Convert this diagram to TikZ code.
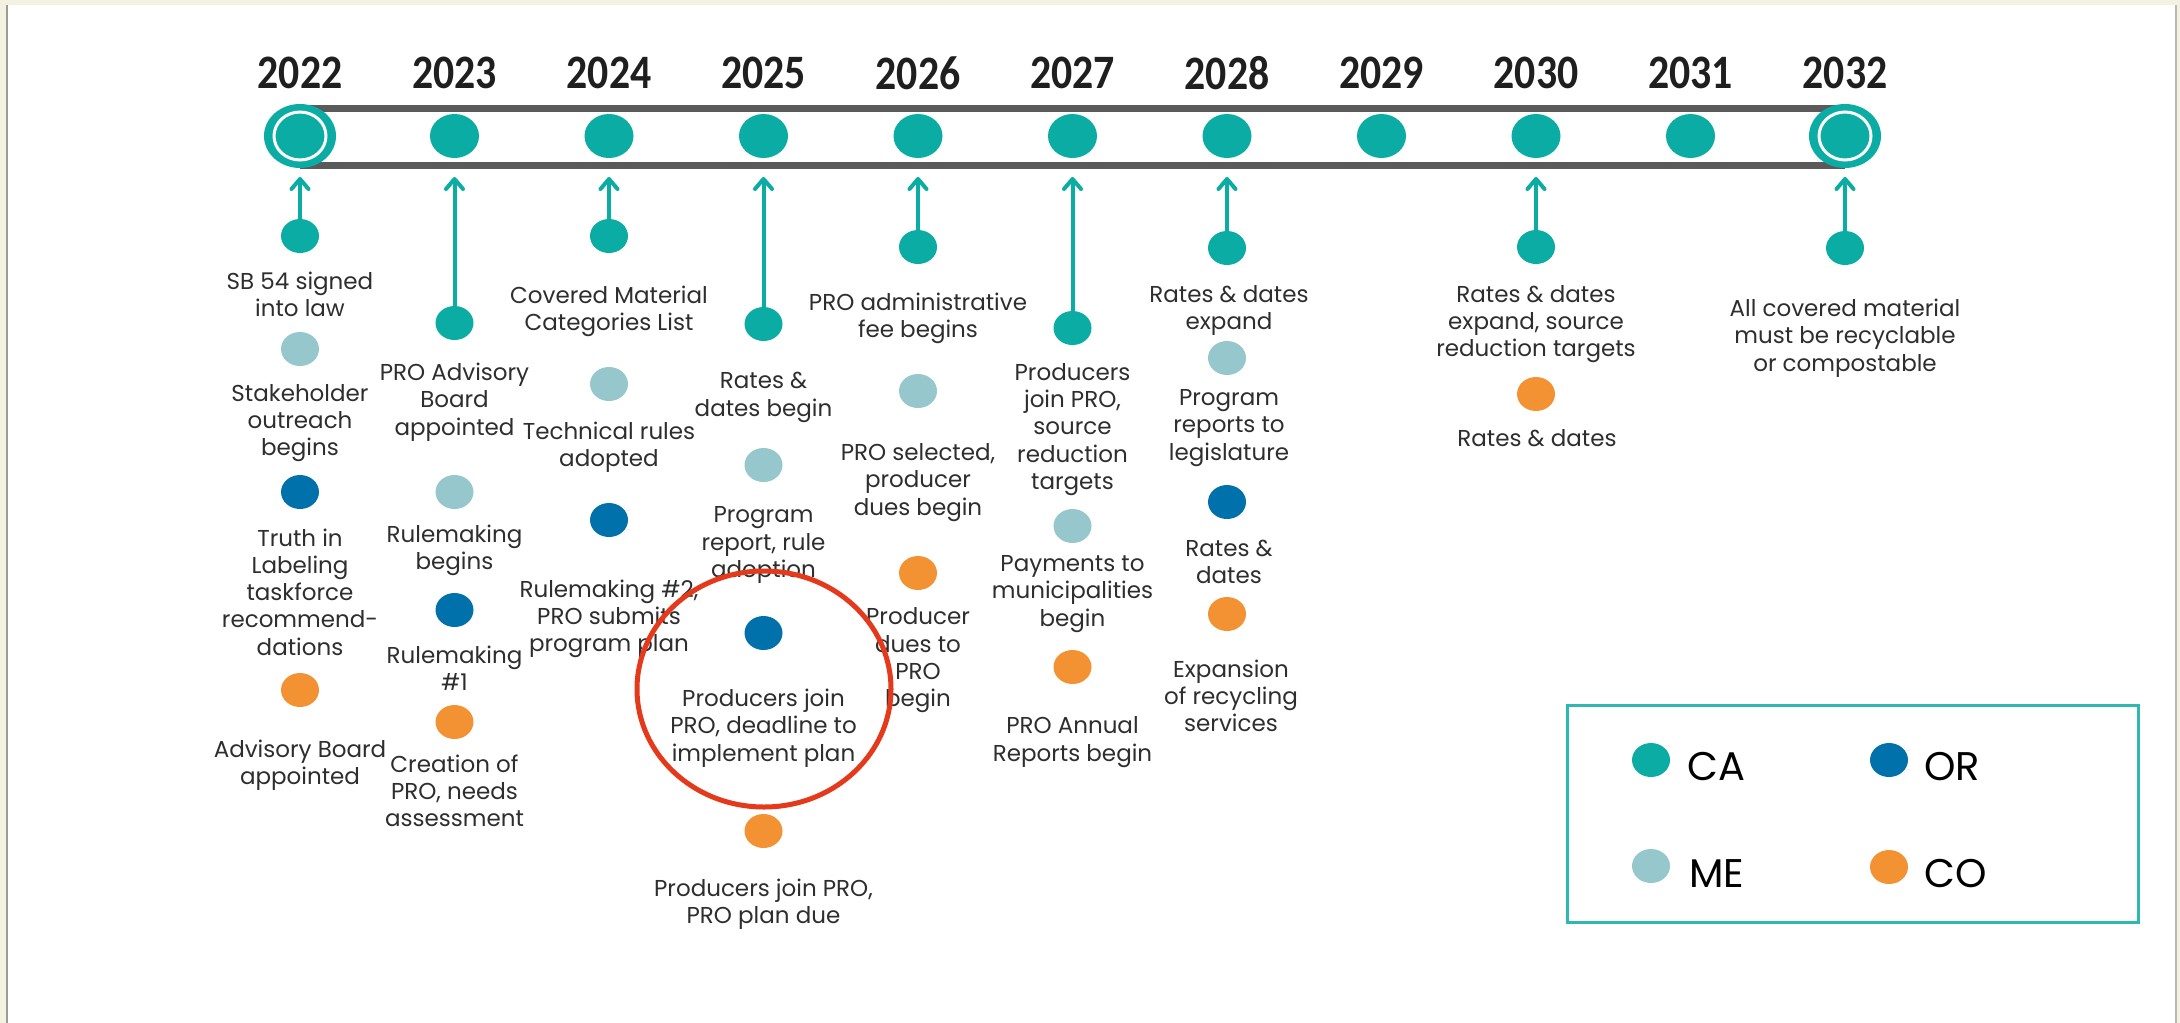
\documentclass[tikz,border=0pt]{standalone}
\usepackage{fontspec}
\setmainfont{Poppins}
\newfontfamily\yearfont{Carlito}
\usetikzlibrary{shapes.geometric,arrows.meta}
\definecolor{cCA}{HTML}{0AACA4}
\definecolor{cME}{HTML}{96C7CC}
\definecolor{cOR}{HTML}{0071AB}
\definecolor{cCO}{HTML}{F39232}
\definecolor{cBar}{HTML}{5A5A5A}
\definecolor{cTxt}{HTML}{2E2E2E}
\definecolor{cRed}{HTML}{E5391C}
\definecolor{cBeige}{HTML}{F3F1DF}
\definecolor{cFrame}{HTML}{9C9C94}
\newcommand\lblfont{\fontsize{23}{27.3}\selectfont}
\newcommand\yrfont{\yearfont\bfseries\fontsize{48}{48}\selectfont}
\newcommand\yr[1]{\scalebox{0.87}[1]{#1}}
\tikzset{
  dotbase/.style={ellipse, minimum width=38pt, minimum height=34pt, inner sep=0pt, draw=none},
  dotCA/.style={dotbase, fill=cCA},
  dotME/.style={dotbase, fill=cME},
  dotOR/.style={dotbase, fill=cOR},
  dotCO/.style={dotbase, fill=cCO},
  tdot/.style={ellipse, minimum width=49pt, minimum height=44pt, inner sep=0pt, fill=cCA},
  endouter/.style={ellipse, minimum width=72pt, minimum height=64pt, inner sep=0pt, fill=cCA},
  endring/.style={ellipse, minimum width=52pt, minimum height=48pt, inner sep=0pt, draw=white, line width=3pt},
  lbl/.style={align=center, font=\lblfont, text=cTxt, inner sep=0pt},
  yearlbl/.style={font=\yrfont, text=black!88, inner sep=0pt},
  arr/.style={draw=cCA, line width=4pt, -{Straight Barb[length=10pt,width=17pt,round]}},
  barline/.style={draw=cBar, line width=7pt},
  legtxt/.style={font=\fontsize{40}{40}\selectfont, text=black, inner sep=0pt, anchor=base west},
}
\begin{document}
\begin{tikzpicture}[x=1pt,y=-1pt]
\useasboundingbox (0,0) rectangle (2180,1023);
% frame
\fill[cBeige] (0,0) rectangle (2180,1023);
\fill[white] (6,5) rectangle (2177,1023);
\draw[cFrame, line width=2.5pt] (7.2,5) -- (7.2,1023);
\draw[cFrame!70, line width=2pt] (2176,5) -- (2176,1023);
% bar
\draw[barline] (300,108) -- (1845,108);
\draw[barline] (300,165) -- (1845,165);
% timeline dots and year labels
\foreach \yy [count=\i from 0] in {2022,...,2032}{
  \node[yearlbl] (y\yy) at ({300+154.5*\i},73) {\yr{\yy}};
}
\foreach \yy [count=\i from 1] in {2023,...,2031}{
  \node[tdot] (d\yy) at ({300+154.5*\i},136) {};
}
\node[endouter] (d2022) at (300,136) {};
\node[endring] (r2022) at (300,136) {};
\node[endouter] (d2032) at (1845,136) {};
\node[endring] (r2032) at (1845,136) {};
% arrow tips
\foreach \yy [count=\i from 0] in {2022,...,2032}{
  \coordinate (tip\yy) at ({300+154.5*\i},177);
}
% ---- 2022
\node[dotCA] (ca2022) at (300,236) {};
\node[lbl] (t2022a) at (300,294.5) {SB 54 signed\\into law};
\node[dotME] (me2022) at (300,349) {};
\node[lbl] (t2022b) at (300,423) {Stakeholder\\outreach\\begins};
\node[dotOR] (or2022) at (300,492) {};
\node[lbl] (t2022c) at (300,592) {Truth in\\Labeling\\taskforce\\recommend-\\dations};
\node[dotCO] (co2022) at (300,690) {};
\node[lbl] (t2022d) at (300,765.5) {Advisory Board\\appointed};
% ---- 2023
\node[dotCA] (ca2023) at (454.5,323) {};
\node[lbl] (t2023a) at (454.5,402) {PRO Advisory\\Board\\appointed};
\node[dotME] (me2023) at (454.5,492) {};
\node[lbl] (t2023b) at (454.5,550.5) {Rulemaking\\begins};
\node[dotOR] (or2023) at (454.5,610) {};
\node[lbl] (t2023c) at (454.5,668) {Rulemaking\\\#1};
\node[dotCO] (co2023) at (454.5,722) {};
\node[lbl] (t2023d) at (454.5,791) {Creation of\\PRO, needs\\assessment};
% ---- 2024
\node[dotCA] (ca2024) at (609,236) {};
\node[lbl] (t2024a) at (609,311.5) {Covered Material\\Categories List};
\node[dotME] (me2024) at (609,384) {};
\node[lbl] (t2024b) at (609,447.5) {Technical rules\\adopted};
\node[dotOR] (or2024) at (609,520) {};
\node[lbl] (t2024c) at (609,619) {Rulemaking \#2,\\PRO submits\\program plan};
% ---- 2025
\node[dotCA] (ca2025) at (763.5,324) {};
\node[lbl] (t2025a) at (763.5,397.5) {Rates \&\\dates begin};
\node[dotME] (me2025) at (763.5,465) {};
\node[lbl] (t2025b) at (763.5,545) {Program\\report, rule\\adoption};
\node[dotOR] (or2025) at (763.5,633) {};
\node[lbl] (t2025c) at (763.5,728) {Producers join\\PRO, deadline to\\implement plan};
\node[dotCO] (co2025) at (763.5,831) {};
\node[lbl] (t2025d) at (763.5,904) {Producers join PRO,\\PRO plan due};
% ---- 2026
\node[dotCA] (ca2026) at (918,247) {};
\node[lbl] (t2026a) at (918,318) {PRO administrative\\fee begins};
\node[dotME] (me2026) at (918,391) {};
\node[lbl] (t2026b) at (918,482.5) {PRO selected,\\producer\\dues begin};
\node[dotCO] (co2026) at (918,573) {};
\node[lbl] (t2026c) at (918,660.5) {Producer\\dues to\\PRO\\begin};
% ---- 2027
\node[dotCA] (ca2027) at (1072.5,328) {};
\node[lbl] (t2027a) at (1072.5,429.5) {Producers\\join PRO,\\source\\reduction\\targets};
\node[dotME] (me2027) at (1072.5,526) {};
\node[lbl] (t2027b) at (1072.5,594) {Payments to\\municipalities\\begin};
\node[dotCO] (co2027) at (1072.5,667) {};
\node[lbl] (t2027c) at (1072.5,742) {PRO Annual\\Reports begin};
% ---- 2028
\node[dotCA] (ca2028) at (1227,248) {};
\node[lbl] (t2028a) at (1229,310.5) {Rates \& dates\\expand};
\node[dotME] (me2028) at (1227,358) {};
\node[lbl] (t2028b) at (1229,428) {Program\\reports to\\legislature};
\node[dotOR] (or2028) at (1227,502) {};
\node[lbl] (t2028c) at (1229,562) {Rates \&\\dates};
\node[dotCO] (co2028) at (1227,614) {};
\node[lbl] (t2028d) at (1231,696) {Expansion\\of recycling\\services};
% ---- 2030
\node[dotCA] (ca2030) at (1536,247) {};
\node[lbl] (t2030a) at (1536,324) {Rates \& dates\\expand, source\\reduction targets};
\node[dotCO] (co2030) at (1536,394) {};
\node[lbl] (t2030b) at (1537,438) {Rates \& dates};
% ---- 2032
\node[dotCA] (ca2032) at (1845,248) {};
\node[lbl] (t2032a) at (1845,338) {All covered material\\must be recyclable\\or compostable};
% arrows
\foreach \yy in {2022,2023,2024,2025,2026,2027,2028,2030,2032}{
  \draw[arr] (ca\yy.north) -- (tip\yy);
}
% highlight ellipse
\node[ellipse, draw=cRed, line width=5pt, minimum width=254pt, minimum height=236pt, inner sep=0pt] (hl) at (764,689) {};
% legend
\node[draw=cCA!85, line width=3pt, minimum width=571pt, minimum height=217pt, inner sep=0pt] (legend) at (1852.5,813.5) {};
\node[dotCA] (lgCA) at (1651,760) {};
\node[legtxt] (lgCAt) at (1687,780) {CA};
\node[dotOR] (lgOR) at (1889,760) {};
\node[legtxt] (lgORt) at (1924,780) {OR};
\node[dotME] (lgME) at (1651,866) {};
\node[legtxt] (lgMEt) at (1689,887) {ME};
\node[dotCO] (lgCO) at (1889,867) {};
\node[legtxt] (lgCOt) at (1924,887) {CO};
\end{tikzpicture}
\end{document}
